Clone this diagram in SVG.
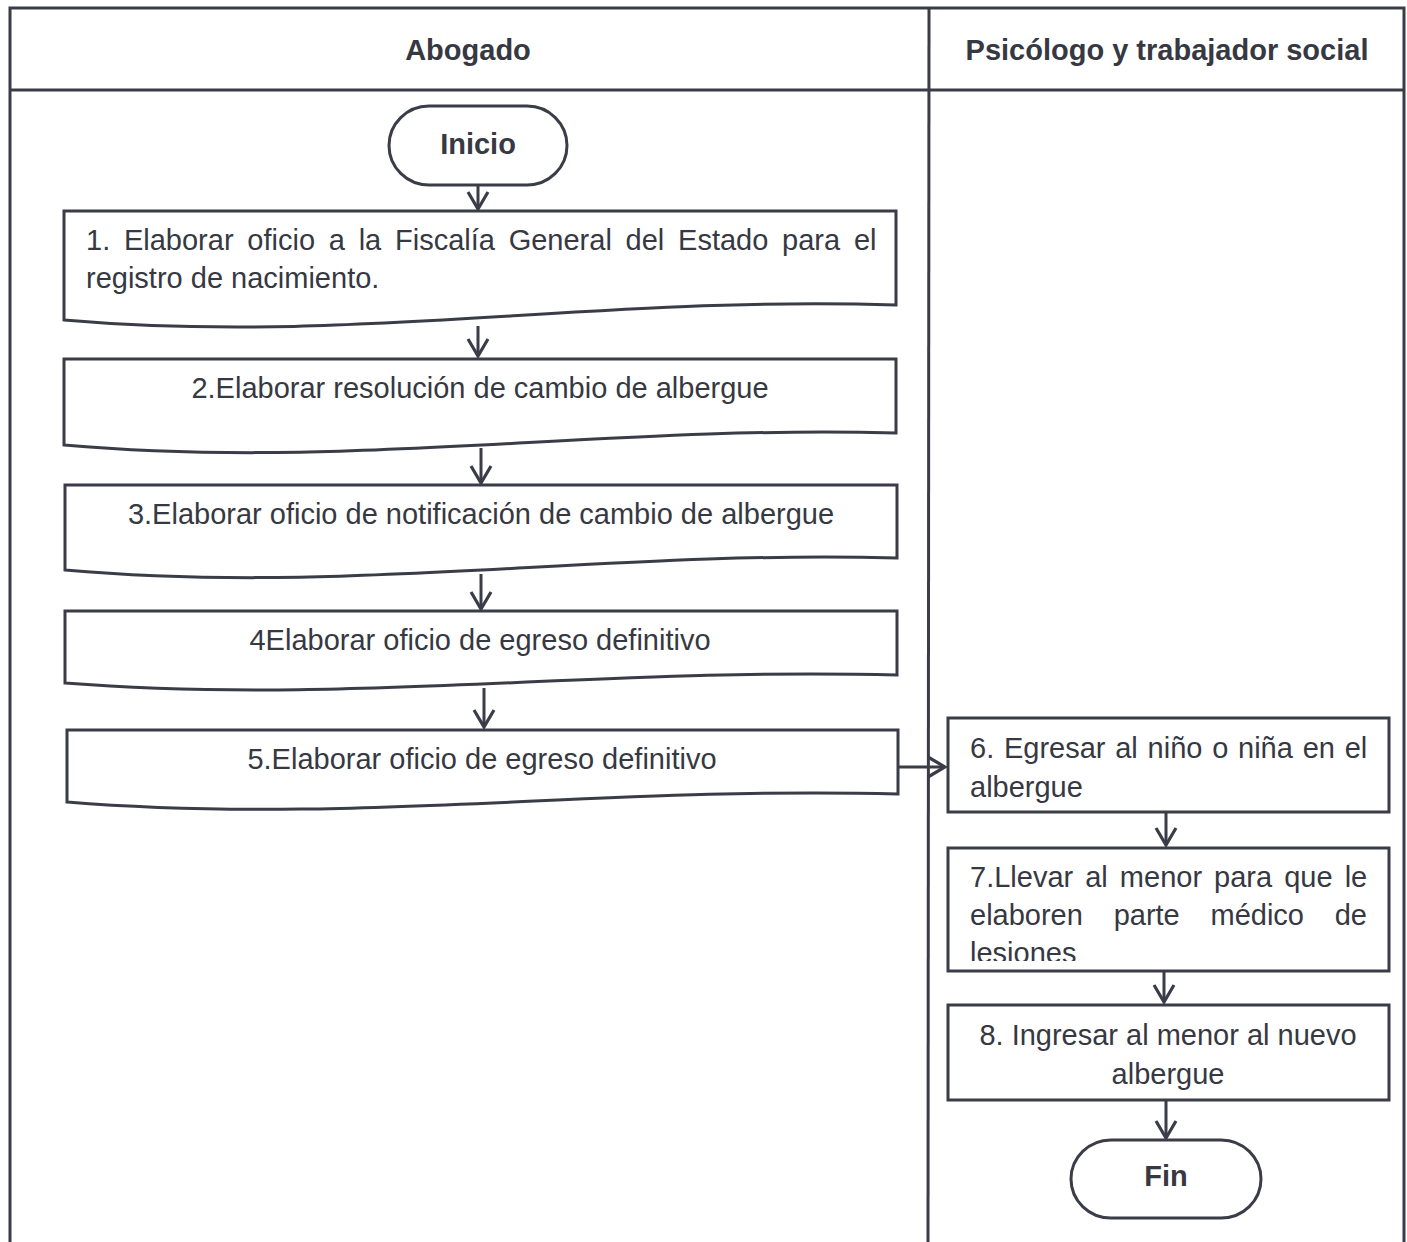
<svg xmlns="http://www.w3.org/2000/svg" width="1407" height="1242" viewBox="0 0 1407 1242">
  <style>
    .frame { fill: none; stroke: #3a3c48; stroke-width: 3; }
    .shape { fill: #ffffff; stroke: #3a3c48; stroke-width: 3; stroke-linejoin: miter; }
    .conn { fill: none; stroke: #3a3c48; stroke-width: 3; }
    .t { font-family: "Liberation Sans", Arial, sans-serif; font-size: 29px; fill: #363842; }
    .c { text-anchor: middle; }
    .b { font-weight: bold; }
  </style>
  <defs>
    <marker id="arr" viewBox="-20 -13 23 26" refX="0" refY="0" markerWidth="23" markerHeight="26" orient="auto" markerUnits="userSpaceOnUse">
      <path d="M-17,-10 L0,0 L-17,10" fill="none" stroke="#3a3c48" stroke-width="3.2"/>
    </marker>
    <clipPath id="clip7">
      <rect x="950" y="850" width="437" height="111"/>
    </clipPath>
  </defs>

  <rect width="1407" height="1242" fill="#ffffff"/>

  <!-- swimlane table -->
  <g id="lanes">
    <path class="frame" d="M10,1242 V8 H1404 V1242"/>
    <line class="frame" x1="10" y1="90" x2="1404" y2="90"/>
    <line class="frame" x1="929" y1="8" x2="928" y2="1242"/>
    <text class="t b c" x="468" y="60">Abogado</text>
    <text class="t b c" x="1167" y="60">Psicólogo y trabajador social</text>
  </g>

  <!-- connectors -->
  <g id="connectors">
    <line class="conn" x1="478" y1="185" x2="478" y2="209" marker-end="url(#arr)"/>
    <line class="conn" x1="478" y1="326" x2="478" y2="356" marker-end="url(#arr)"/>
    <line class="conn" x1="481" y1="448" x2="481" y2="483" marker-end="url(#arr)"/>
    <line class="conn" x1="481" y1="574" x2="481" y2="609" marker-end="url(#arr)"/>
    <line class="conn" x1="484" y1="688" x2="484" y2="727" marker-end="url(#arr)"/>
    <line class="conn" x1="898" y1="767" x2="945" y2="767" marker-end="url(#arr)"/>
    <line class="conn" x1="1166" y1="812" x2="1166" y2="845" marker-end="url(#arr)"/>
    <line class="conn" x1="1164" y1="971" x2="1164" y2="1002" marker-end="url(#arr)"/>
    <line class="conn" x1="1166" y1="1100" x2="1166" y2="1138" marker-end="url(#arr)"/>
  </g>

  <g id="inicio">
    <rect class="shape" x="389" y="106" width="178" height="79" rx="40" ry="40"/>
    <text class="t b c" x="478" y="154">Inicio</text>
  </g>

  <g id="step1">
    <path class="shape" d="M64,211 H896 V305 C600,295 350,345 64,320 Z"/>
    <text class="t" x="86" y="250" word-spacing="5.7">1. Elaborar oficio a la Fiscalía General del Estado para el</text>
    <text class="t" x="86" y="288">registro de nacimiento.</text>
  </g>

  <g id="step2">
    <path class="shape" d="M64,359 H896 V433 C600,425 350,470 64,445 Z"/>
    <text class="t c" x="480" y="398">2.Elaborar resolución de cambio de albergue</text>
  </g>

  <g id="step3">
    <path class="shape" d="M65,485 H897 V558 C600,550 350,595 65,570 Z"/>
    <text class="t c" x="481" y="524">3.Elaborar oficio de notificación de cambio de albergue</text>
  </g>

  <g id="step4">
    <path class="shape" d="M65,611 H897 V675 C600,667 350,705 65,683 Z"/>
    <text class="t c" x="480" y="650">4Elaborar oficio de egreso definitivo</text>
  </g>

  <g id="step5">
    <path class="shape" d="M67,730 H898 V794 C600,786 350,825 67,802 Z"/>
    <text class="t c" x="482" y="769">5.Elaborar oficio de egreso definitivo</text>
  </g>

  <g id="step6">
    <rect class="shape" x="948" y="718" width="441" height="94"/>
    <text class="t" x="970" y="758" word-spacing="1.7">6. Egresar al niño o niña en el</text>
    <text class="t" x="970" y="797">albergue</text>
  </g>

  <g id="step7">
    <rect class="shape" x="948" y="848" width="441" height="123"/>
    <g clip-path="url(#clip7)">
      <text class="t" x="970" y="887" word-spacing="4">7.Llevar al menor para que le</text>
      <text class="t" x="970" y="925" word-spacing="22.7">elaboren parte médico de</text>
      <text class="t" x="970" y="963">lesiones</text>
    </g>
  </g>

  <g id="step8">
    <rect class="shape" x="948" y="1005" width="441" height="95"/>
    <text class="t c" x="1168" y="1045">8. Ingresar al menor al nuevo</text>
    <text class="t c" x="1168" y="1084">albergue</text>
  </g>

  <g id="fin">
    <rect class="shape" x="1071" y="1140" width="190" height="78" rx="40" ry="40"/>
    <text class="t b c" x="1166" y="1186">Fin</text>
  </g>
</svg>
